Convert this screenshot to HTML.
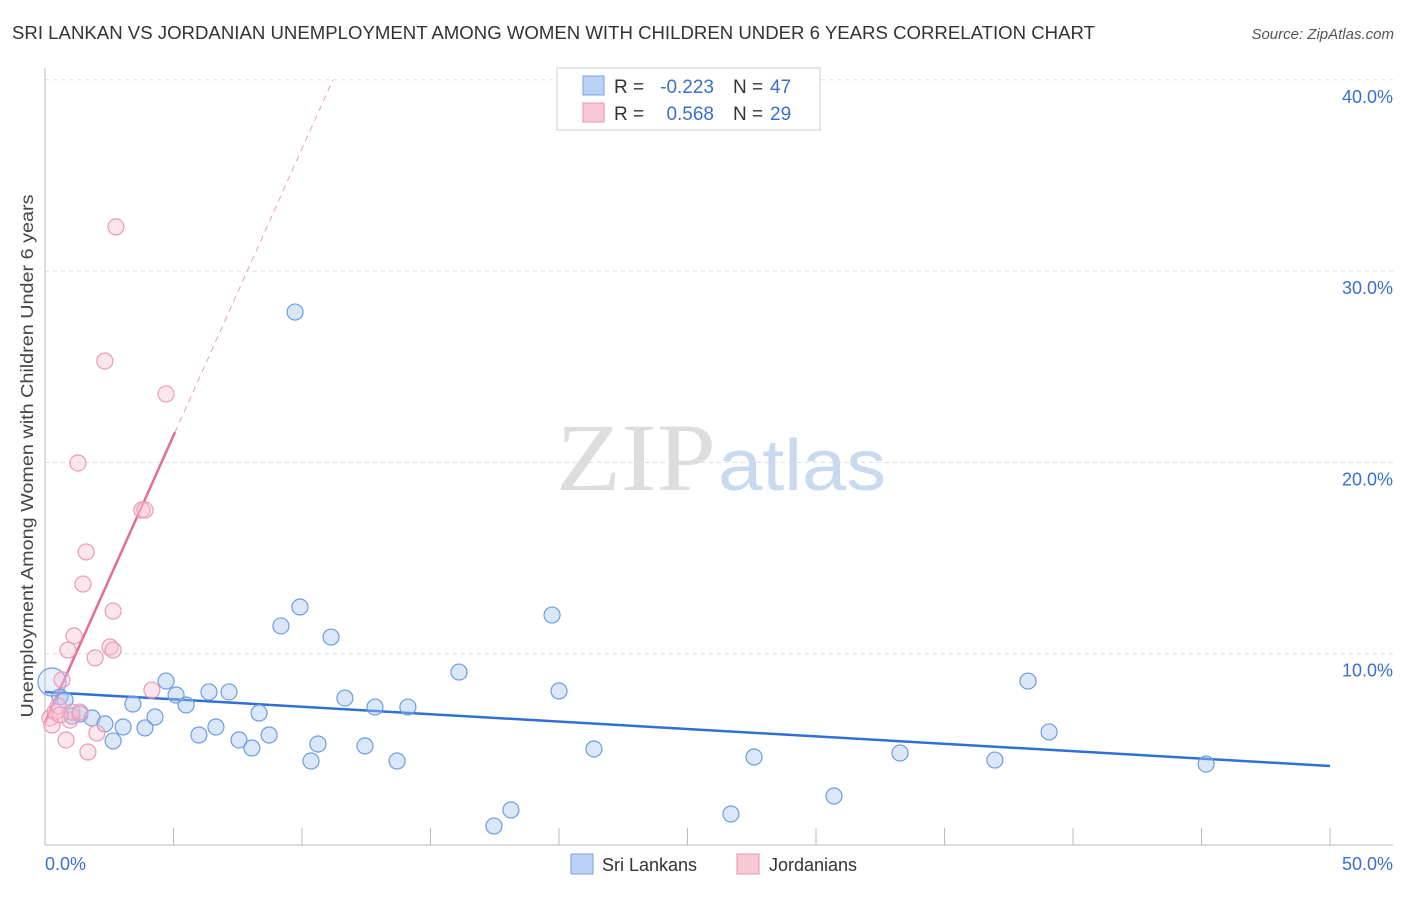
<!DOCTYPE html>
<html><head><meta charset="utf-8"><style>
body{margin:0;background:#fff;font-family:"Liberation Sans",sans-serif;}
svg text{font-family:"Liberation Sans",sans-serif;}
</style></head><body>
<svg id="chart" width="1406" height="892">
<text x="12" y="39" font-size="18" fill="#333" textLength="1083" lengthAdjust="spacingAndGlyphs">SRI LANKAN VS JORDANIAN UNEMPLOYMENT AMONG WOMEN WITH CHILDREN UNDER 6 YEARS CORRELATION CHART</text>
<text x="1394" y="39" font-size="15" fill="#555" font-style="italic" text-anchor="end">Source: ZipAtlas.com</text>
<text x="33" y="456" font-size="17.5" fill="#444" text-anchor="middle" textLength="523" lengthAdjust="spacingAndGlyphs" transform="rotate(-90 33 456)">Unemployment Among Women with Children Under 6 years</text>
<g id="grid"></g><g id="axes"></g>
<text x="716" y="490" font-size="96" fill="#ddd" text-anchor="end" textLength="160" lengthAdjust="spacingAndGlyphs" style="font-family:'Liberation Serif',serif">ZIP</text>
<text x="718" y="490" font-size="72" fill="#c9d9ef" textLength="168" lengthAdjust="spacingAndGlyphs">atlas</text>
<g id="lines"></g><g id="points"></g>
<g>
<rect x="557" y="68" width="263" height="62" fill="#fff" stroke="#ccc"/>
<rect x="583" y="76" width="21" height="19" fill="#b9d2f5" stroke="#7aa3e0"/>
<rect x="583" y="103" width="21" height="19" fill="#f9c8d6" stroke="#e994b0"/>
<text x="614" y="93" font-size="19" fill="#333">R =</text>
<text x="714" y="93" font-size="19" fill="#3a6fd0" text-anchor="end">-0.223</text>
<text x="733" y="93" font-size="19" fill="#333">N =</text>
<text x="770" y="93" font-size="19" fill="#3a6fd0">47</text>
<text x="614" y="120" font-size="19" fill="#333">R =</text>
<text x="714" y="120" font-size="19" fill="#3a6fd0" text-anchor="end">0.568</text>
<text x="733" y="120" font-size="19" fill="#333">N =</text>
<text x="770" y="120" font-size="19" fill="#3a6fd0">29</text>
</g>
<g>
<rect x="571" y="854" width="22" height="20" fill="#b9d2f5" stroke="#7aa3e0"/>
<text x="602" y="871" font-size="18" fill="#333">Sri Lankans</text>
<rect x="737" y="854" width="22" height="20" fill="#f9c8d6" stroke="#e994b0"/>
<text x="769" y="871" font-size="18" fill="#333">Jordanians</text>
</g>
</svg>
<script>
const yTicks=[10,20,30,40];
const yTickLabels=["10.0%","20.0%","30.0%","40.0%"];
const xTicks=[0,5,10,15,20,25,30,35,40,45,50];
const blueX=[0.27,0.58,0.78,1.05,1.36,1.83,2.33,2.65,3.04,3.42,3.89,4.28,4.71,5.10,5.49,5.99,6.38,6.65,7.16,7.55,8.05,8.33,8.72,9.18,9.73,9.92,10.35,10.62,11.13,11.67,12.45,12.84,13.70,14.12,16.11,17.47,18.13,19.73,20.00,21.36,26.69,27.59,30.70,33.27,36.96,38.25,39.07,45.18];
const blueY=[8.52,7.74,7.58,6.74,6.85,6.64,6.33,5.44,6.17,7.37,6.12,6.69,8.57,7.84,7.32,5.75,8.00,6.17,8.00,5.49,5.07,6.90,5.75,11.45,27.86,12.44,4.39,5.28,10.87,7.68,5.18,7.21,4.39,7.21,9.04,0.99,1.83,12.02,8.05,5.02,1.62,4.60,2.56,4.81,4.44,8.57,5.91,4.23];
const pinkX=[0.19,0.39,0.51,0.66,0.82,0.97,1.05,1.13,1.28,1.48,1.60,1.67,1.95,2.02,2.33,2.53,2.65,2.65,2.76,3.77,3.89,4.16,4.71,0.89,0.27,0.58,1.36];
const pinkY=[6.64,6.95,7.27,8.63,5.49,6.53,6.95,10.93,19.97,13.64,15.32,4.86,9.78,5.85,25.30,10.35,10.19,12.23,32.31,17.51,17.51,8.10,23.58,10.19,6.27,6.80,6.95];
const blueTrend=[8.0,4.13];
const pinkTrend=[6.4,3.0];
const X=v=>45+v*25.7, Y=v=>845-v*19.13;
const NS="http://www.w3.org/2000/svg";
function mk(t,a,p){const e=document.createElementNS(NS,t);for(const k in a)e.setAttribute(k,a[k]);document.getElementById(p).appendChild(e);return e;}
yTicks.forEach((t,i)=>{
 const l=mk('line',{x1:45,x2:1393,y1:Y(t),y2:Y(t),stroke:'#ddd','stroke-dasharray':'4,4'},'grid');
 
 
 const tx=mk('text',{x:1393,y:Y(t)+23,'font-size':18,fill:'#3a6fd0','text-anchor':'end'},'grid');tx.textContent=yTickLabels[i];
 
 
});
mk('line',{x1:45,x2:45,y1:68,y2:845,stroke:'#bbb'},'axes');
mk('line',{x1:45,x2:1393,y1:845,y2:845,stroke:'#bbb'},'axes');
xTicks.forEach(t=>{const l=mk('line',{x1:X(t),x2:X(t),y1:828,y2:845,stroke:'#bbb'},'axes');
 
 });
let a=mk('text',{x:45,y:870,'font-size':18,fill:'#3a6fd0'},'axes');a.textContent='0.0%';


a=mk('text',{x:1393,y:870,'font-size':18,fill:'#3a6fd0','text-anchor':'end'},'axes');a.textContent='50.0%';


blueX.forEach((x,i)=>{const c=mk('circle',{cx:X(x),cy:Y(blueY[i]),r:i==0?14:8,fill:i==0?'rgba(160,195,240,0.25)':'rgba(160,195,240,0.4)',stroke:'#6d9de0','stroke-width':1.2},'points');
 
 });
pinkX.forEach((x,i)=>{const c=mk('circle',{cx:X(x),cy:Y(pinkY[i]),r:8,fill:'rgba(248,190,210,0.4)',stroke:'#ea9ab5','stroke-width':1.2},'points');
 
 });
let bl=mk('line',{x1:X(0),y1:Y(blueTrend[0]),x2:X(50),y2:Y(blueTrend[1]),stroke:'#2f6fd6','stroke-width':2.5},'lines');


const pEnd=5.06, pTop=(40-pinkTrend[0])/pinkTrend[1];
let pl=mk('line',{x1:X(0),y1:Y(pinkTrend[0]),x2:X(pEnd),y2:Y(pinkTrend[0]+pinkTrend[1]*pEnd),stroke:'#e8699a','stroke-width':2.5},'lines');


let pd=mk('line',{x1:X(pEnd),y1:Y(pinkTrend[0]+pinkTrend[1]*pEnd),x2:X(pTop),y2:Y(40),stroke:'#e8a0b8','stroke-width':1,'stroke-dasharray':'6,5'},'lines');


</script>
</body></html>
